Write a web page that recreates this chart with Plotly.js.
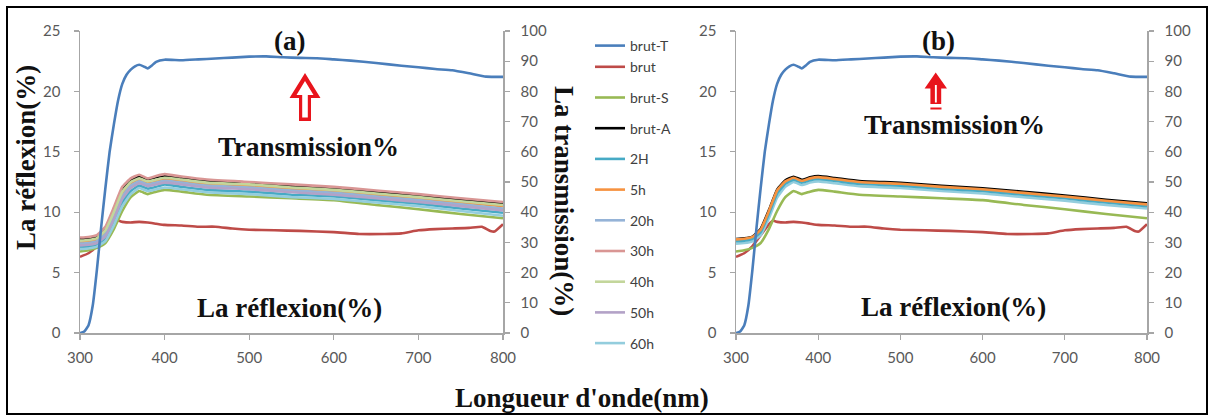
<!DOCTYPE html>
<html><head><meta charset="utf-8">
<script src="https://cdn.plot.ly/plotly-3.0.1.min.js"></script>
<style>html,body{margin:0;padding:0;background:#fff}#chart{width:1214px;height:417px}</style>
</head><body><div id="chart"></div>
<script>
// ---------- data ----------
const seriesNames = ["brut-T","brut","brut-S","brut-A","2H","5h","20h","30h","40h","50h","60h"];
const seriesColors = ["#4A7EBB","#BE4B48","#98B954","#000000","#46AAC5","#F69240","#95B3D7","#D99694","#C3D69B","#B3A2C7","#93CDDD"];

// transmission (%) of brut-T
const wlT = [300,305,310,315,320,325,330,335,340,345,350,355,360,365,370,375,380,385,390,400,420,440,460,480,500,520,540,560,580,600,620,650,680,700,720,740,760,780,800];
const transBrutT = [0,0.5,2.5,9,21,35,48,60,69,77,82.5,85.5,87.2,88.3,88.8,88.3,87.6,88.6,89.8,90.5,90.3,90.6,90.9,91.2,91.5,91.6,91.3,91.1,91.0,90.6,90.2,89.4,88.5,88.0,87.4,87.0,86.0,84.9,84.8];

// reflectance (%) of brut
const wlBrut = [300,310,320,330,340,345,350,360,370,380,390,400,420,440,460,480,500,530,560,600,630,660,680,700,720,740,760,775,785,790,800];
const reflBrut = [6.3,6.6,7.2,8.1,9.0,9.3,9.2,9.15,9.2,9.15,9.05,8.95,8.9,8.8,8.8,8.65,8.55,8.5,8.45,8.35,8.2,8.2,8.25,8.5,8.6,8.65,8.7,8.8,8.45,8.4,9.0];

// reflectance (%) of the treated samples
const wlR = [300,310,320,330,340,350,360,370,380,390,400,420,450,500,550,600,650,700,750,800];
const reflBrutS = [6.75,6.85,7.05,7.45,8.6,10.1,11.25,11.75,11.5,11.7,11.85,11.7,11.45,11.3,11.15,11.0,10.6,10.25,9.85,9.5];
const reflBrutA = [7.8,7.85,8.0,8.65,10.2,11.9,12.65,12.95,12.7,12.9,13.0,12.85,12.6,12.45,12.2,12.0,11.7,11.4,11.05,10.75];
const refl2H_a  = [7.1,7.15,7.3,7.8,9.15,10.8,11.75,12.2,11.95,12.1,12.3,12.1,11.85,11.7,11.45,11.3,11.0,10.7,10.3,9.95];
const refl5h_a  = [7.55,7.6,7.75,8.4,9.85,11.55,12.4,12.7,12.45,12.6,12.75,12.6,12.35,12.2,11.95,11.75,11.45,11.15,10.8,10.5];
const refl20h_a = [7.4,7.45,7.6,8.2,9.6,11.3,12.2,12.55,12.3,12.45,12.6,12.45,12.2,12.05,11.8,11.6,11.3,11.0,10.65,10.3];
const refl30h_a = [7.9,7.95,8.1,8.8,10.4,12.1,12.8,13.1,12.8,13.0,13.15,12.95,12.7,12.5,12.3,12.1,11.8,11.5,11.15,10.85];
const refl40h_a = [7.65,7.7,7.85,8.5,10.0,11.7,12.5,12.8,12.55,12.7,12.85,12.7,12.45,12.3,12.05,11.85,11.55,11.25,10.9,10.6];
const refl50h_a = [7.25,7.3,7.45,8.0,9.4,11.1,12.0,12.4,12.15,12.3,12.45,12.3,12.05,11.9,11.65,11.45,11.15,10.85,10.5,10.15];
const refl60h_a = [6.95,7.0,7.15,7.6,8.9,10.5,11.5,12.0,11.75,11.9,12.05,11.9,11.65,11.5,11.25,11.1,10.8,10.5,10.1,9.7];
// panel (b)
const refl5h_b  = [7.75,7.8,7.95,8.55,10.1,11.8,12.55,12.85,12.6,12.8,12.9,12.75,12.5,12.35,12.1,11.9,11.6,11.3,10.95,10.65];
const refl2H_b  = [7.6,7.65,7.8,8.35,9.85,11.55,12.35,12.7,12.45,12.65,12.75,12.6,12.35,12.2,11.95,11.75,11.45,11.15,10.8,10.5];
const refl60h_b = [7.4,7.45,7.6,8.1,9.5,11.2,12.1,12.5,12.25,12.45,12.55,12.4,12.15,12.0,11.75,11.55,11.25,10.95,10.6,10.3];

const xTicks = [300,400,500,600,700,800];
const reflTicks = [0,5,10,15,20,25];
const transTicks = [0,10,20,30,40,50,60,70,80,90,100];

// ---------- helpers ----------
const W = 1214, H = 417;
const px = x => x / W, py = y => 1 - y / H;
const LW = 2.6;

function tr(name, x, y, xa, ya, show, group, width) {
  const i = seriesNames.indexOf(name);
  return {type:'scatter', mode:'lines', name:name, x:x, y:y, xaxis:xa, yaxis:ya,
    line:{color:seriesColors[i], width:width || LW, shape:'spline', smoothing:0.4},
    showlegend:show, legendgroup:group, hoverinfo:'skip'};
}

const traces = [
  // panel (a)
  tr("brut-T", wlT, transBrutT, 'x', 'y2', true, 'g0'),
  tr("brut", wlBrut, reflBrut, 'x', 'y', true, 'g0'),
  tr("brut-S", wlR, reflBrutS, 'x', 'y', true, 'g1'),
  tr("brut-A", wlR, reflBrutA, 'x', 'y', true, 'g2'),
  tr("2H", wlR, refl2H_a, 'x', 'y', true, 'g3'),
  tr("5h", wlR, refl5h_a, 'x', 'y', true, 'g4'),
  tr("20h", wlR, refl20h_a, 'x', 'y', true, 'g5'),
  tr("30h", wlR, refl30h_a, 'x', 'y', true, 'g6'),
  tr("40h", wlR, refl40h_a, 'x', 'y', true, 'g7'),
  tr("50h", wlR, refl50h_a, 'x', 'y', true, 'g8'),
  tr("60h", wlR, refl60h_a, 'x', 'y', true, 'g9'),
  // panel (b)
  tr("brut-T", wlT, transBrutT, 'x2', 'y4', false, 'g0'),
  tr("brut", wlBrut, reflBrut, 'x2', 'y3', false, 'g0'),
  tr("brut-S", wlR, reflBrutS, 'x2', 'y3', false, 'g1'),
  tr("brut-A", wlR, reflBrutA, 'x2', 'y3', false, 'g2', 2.2),
  tr("60h", wlR, refl60h_b, 'x2', 'y3', false, 'g9'),
  tr("2H", wlR, refl2H_b, 'x2', 'y3', false, 'g3'),
  tr("5h", wlR, refl5h_b, 'x2', 'y3', false, 'g4'),
];
// move the panel (b) brut-T line to the end of the drawing order
traces.push(traces.splice(11,1)[0]);

const tickFont = {family:'Lato, "Open Sans", sans-serif', size:15, color:'#595959'};
const axBase = {showline:true, linecolor:'#A6A6A6', linewidth:1.5, ticks:'outside', ticklen:5,
  tickcolor:'#A6A6A6', tickwidth:1.3, showgrid:false, zeroline:false, tickfont:tickFont,
  automargin:false, fixedrange:true};
const dom = [py(333), py(31)];
const xAx = d => Object.assign({}, axBase, {domain:d, range:[300,800], tickvals:xTicks, ticklabelstandoff:5});
const rAx = (anchor) => Object.assign({}, axBase, {domain:dom, range:[0,25], tickvals:reflTicks, anchor:anchor, ticklabelstandoff:10});
const tAx = (over, anchor) => Object.assign({}, axBase, {overlaying:over, side:'right', anchor:anchor, range:[0,100], tickvals:transTicks, ticklabelstandoff:8});

const serif = (size) => ({family:'"Liberation Serif", "Times New Roman", serif', size:size, color:'#111111', weight:'bold'});
function ann(text, x, y, size, angle) {
  return {text:text, xref:'paper', yref:'paper', x:px(x), y:py(y), xanchor:'center', yanchor:'middle',
    showarrow:false, font:serif(size), textangle:angle||0};
}
const annotations = [
  ann('(a)', 289, 41, 27),
  ann('Transmission%', 308, 147, 27),
  ann('La réflexion(%)', 289, 308, 27),
  ann('(b)', 938, 41, 27),
  ann('Transmission%', 954, 125, 27),
  ann('La réflexion(%)', 953, 307, 27),
  ann('La réflexion(%)', 26, 158, 27, -90),
  ann('La transmission(%)', 564, 201, 27, 90),
  ann('Longueur d\'onde(nm)', 582, 398, 27),
];

function path(pts) {
  return 'M' + pts.map(p => px(p[0]) + ',' + py(p[1])).join(' L') + ' Z';
}
const shapes = [
  {type:'rect', xref:'paper', yref:'paper', x0:px(7), x1:px(1207), y0:py(414), y1:py(7), line:{color:'#000', width:2}},
  // arrow (a): outlined red arrow
  {type:'path', xref:'paper', yref:'paper', path:path([[305,73],[320.5,98],[311,98],[311,121],[299,121],[299,98],[289.5,98]]), fillcolor:'#E8141C', line:{width:0}},
  {type:'path', xref:'paper', yref:'paper', path:path([[305,81],[313.5,95],[307.8,95],[307.8,117.5],[302.2,117.5],[302.2,95],[296.5,95]]), fillcolor:'#FFFFFF', line:{width:0}},
  // arrow (b): filled red arrow with white core line and underline
  {type:'path', xref:'paper', yref:'paper', path:path([[935.7,72.5],[947,88.5],[941.2,88.5],[941.2,104],[930.4,104],[930.4,88.5],[924.6,88.5]]), fillcolor:'#E8141C', line:{width:0}},
  {type:'rect', xref:'paper', yref:'paper', x0:px(934.9), x1:px(936.8), y0:py(102.5), y1:py(85), fillcolor:'#FFFFFF', line:{width:0}},
  {type:'rect', xref:'paper', yref:'paper', x0:px(930.4), x1:px(941.5), y0:py(109.5), y1:py(107.5), fillcolor:'#E8141C', line:{width:0}},
];

const layout = {
  width:W, height:H, margin:{l:0,r:0,t:0,b:0}, paper_bgcolor:'#fff', plot_bgcolor:'#fff',
  showlegend:true,
  legend:{x:px(590), y:py(30), xanchor:'left', yanchor:'top', bgcolor:'rgba(0,0,0,0)',
    font:{family:'Lato, "Open Sans", sans-serif', size:14, color:'#404040'},
    tracegroupgap:9.5, traceorder:'grouped', itemwidth:30},
  xaxis: Object.assign(xAx([px(80), px(503)]), {anchor:'y'}),
  yaxis: rAx('x'),
  yaxis2: tAx('y', 'x'),
  xaxis2: Object.assign(xAx([px(736), px(1147)]), {anchor:'y3'}),
  yaxis3: rAx('x2'),
  yaxis4: tAx('y3', 'x2'),
  annotations: annotations,
  shapes: shapes,
};
Plotly.newPlot('chart', traces, layout, {displayModeBar:false, staticPlot:true});
</script>
</body></html>
